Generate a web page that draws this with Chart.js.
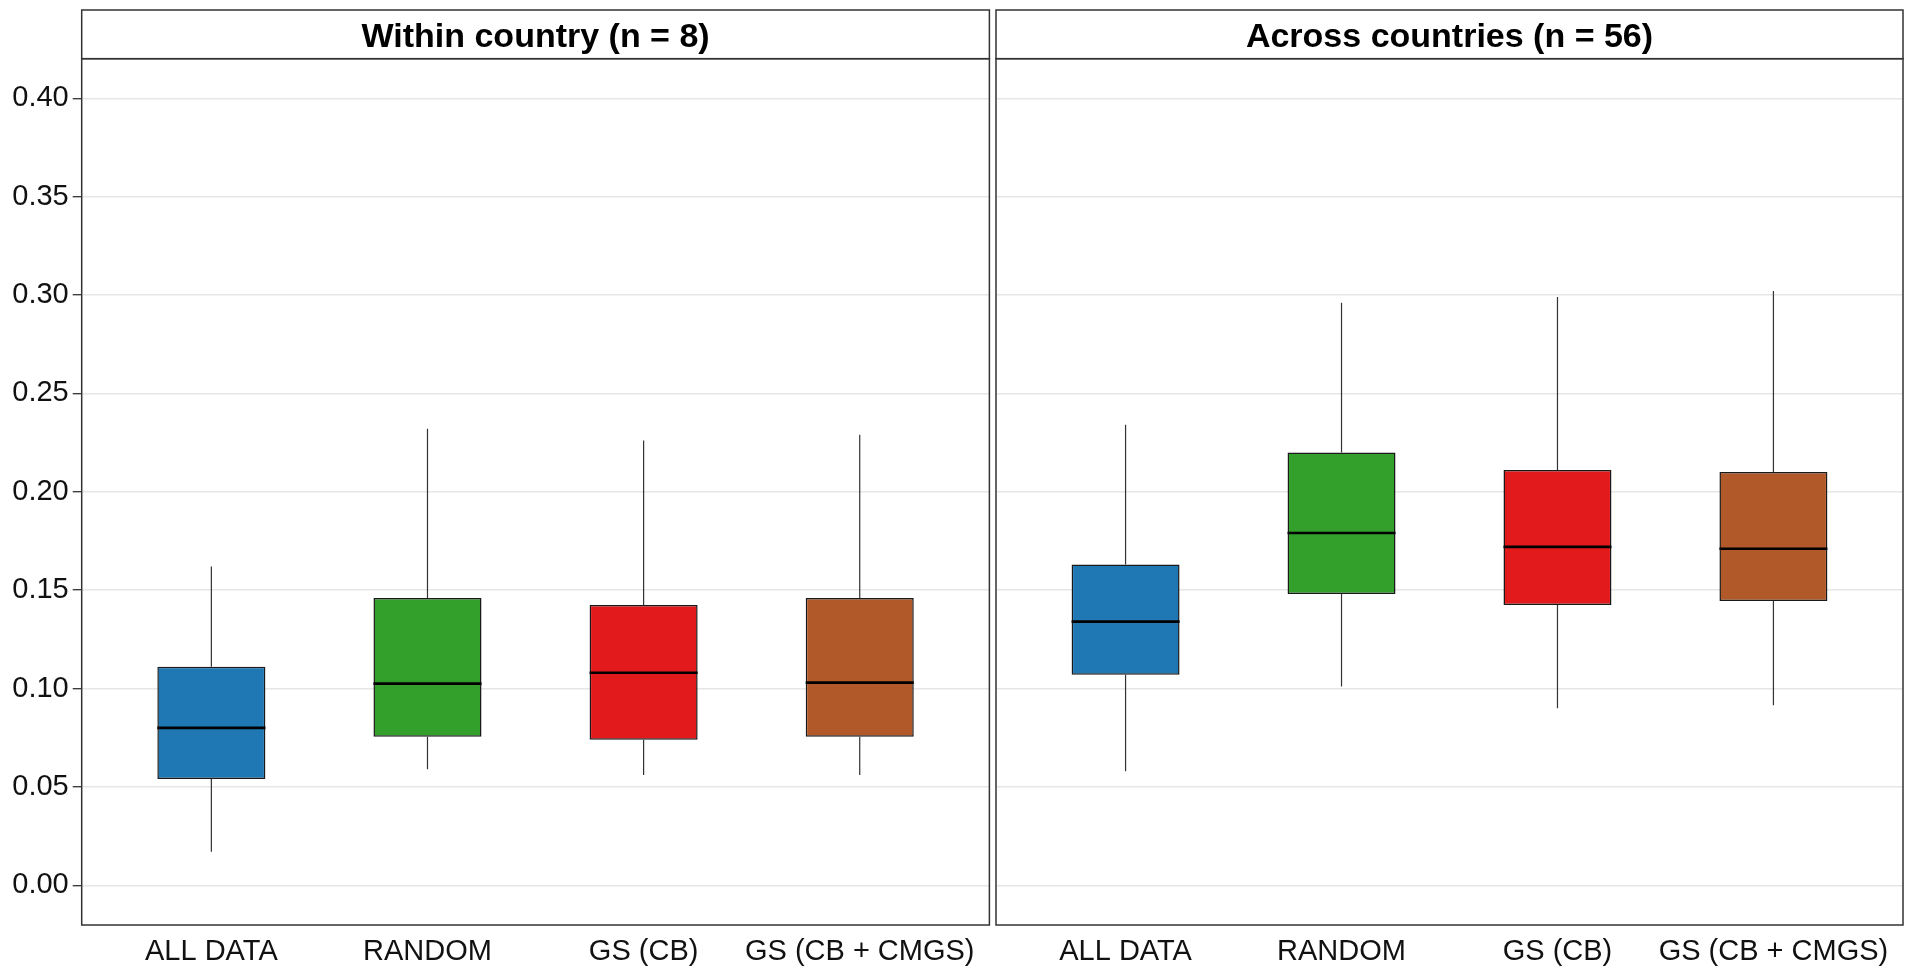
<!DOCTYPE html>
<html>
<head>
<meta charset="utf-8">
<script src="https://cdn.jsdelivr.net/npm/chart.js@4.4.1/dist/chart.umd.min.js"></script>
<style>
  html, body { margin: 0; padding: 0; background: #ffffff; }
  #wrap { position: relative; width: 1905px; height: 968px; overflow: hidden; background: #ffffff; }
  canvas { position: absolute; top: 0; }
  #left { left: 0; }
  #right { left: 992px; }
</style>
</head>
<body>
<div id="wrap">
  <canvas id="left" width="992" height="968"></canvas>
  <canvas id="right" width="913" height="968"></canvas>
</div>
<script>
// Categories and panel titles
const categories = ['ALL DATA', 'RANDOM', 'GS (CB)', 'GS (CB + CMGS)'];
const panelTitles = ['Within country (n = 8)', 'Across countries (n = 56)'];
const boxColors = ['#1F78B4', '#33A02C', '#E31A1C', '#B15928'];
const yTicks = [0.00, 0.05, 0.10, 0.15, 0.20, 0.25, 0.30, 0.35, 0.40];

// Within country: five-number summaries per category
const withinLower  = [0.017, 0.059, 0.056, 0.056];
const withinQ1     = [0.054, 0.0755, 0.074, 0.0755];
const withinMedian = [0.080, 0.1025, 0.108, 0.103];
const withinQ3     = [0.111, 0.146, 0.1425, 0.146];
const withinUpper  = [0.162, 0.232, 0.226, 0.229];

// Across countries: five-number summaries per category
const acrossLower  = [0.058, 0.101, 0.090, 0.0915];
const acrossQ1     = [0.107, 0.148, 0.1425, 0.1445];
const acrossMedian = [0.134, 0.179, 0.172, 0.171];
const acrossQ3     = [0.163, 0.220, 0.211, 0.210];
const acrossUpper  = [0.234, 0.296, 0.299, 0.302];

const FONT = '"Liberation Sans", Arial, Helvetica, sans-serif';

// Draws whiskers, medians, the panel frame and the title strip
const boxPlotPlugin = {
  id: 'boxPlot',
  afterDatasetsDraw(chart, args, opts) {
    const ctx = chart.ctx;
    const y = chart.scales.y;
    const meta = chart.getDatasetMeta(0);
    ctx.save();
    meta.data.forEach((bar, i) => {
      const x = bar.x;
      const half = bar.width / 2;
      // whiskers
      ctx.strokeStyle = '#333333';
      ctx.lineWidth = 1.2;
      ctx.beginPath();
      ctx.moveTo(x, y.getPixelForValue(opts.upper[i]));
      ctx.lineTo(x, y.getPixelForValue(opts.q3[i]));
      ctx.moveTo(x, y.getPixelForValue(opts.q1[i]));
      ctx.lineTo(x, y.getPixelForValue(opts.lower[i]));
      ctx.stroke();
      // median
      ctx.strokeStyle = '#000000';
      ctx.lineWidth = 2.6;
      const my = y.getPixelForValue(opts.median[i]);
      ctx.beginPath();
      ctx.moveTo(x - half, my);
      ctx.lineTo(x + half, my);
      ctx.stroke();
    });
    ctx.restore();
  },
  afterDraw(chart, args, opts) {
    const ctx = chart.ctx;
    const a = chart.chartArea;
    ctx.save();
    // title strip
    const stripTop = 10;
    ctx.fillStyle = '#ffffff';
    ctx.fillRect(a.left, stripTop, a.right - a.left, a.top - stripTop);
    ctx.strokeStyle = '#333333';
    ctx.lineWidth = 1.5;
    ctx.strokeRect(a.left, stripTop, a.right - a.left, a.top - stripTop);
    ctx.fillStyle = '#000000';
    ctx.font = 'bold 34px ' + FONT;
    ctx.textAlign = 'center';
    ctx.textBaseline = 'middle';
    ctx.fillText(opts.title, (a.left + a.right) / 2, (stripTop + a.top) / 2 + 3.5);
    // panel frame
    ctx.strokeRect(a.left, a.top, a.right - a.left, a.bottom - a.top);
    ctx.restore();
  }
};

function makePanel(canvasId, title, lower, q1, median, q3, upper, showY, padding) {
  const points = categories.map((c, i) => ({ x: i, y: [q1[i], q3[i]] }));
  return new Chart(document.getElementById(canvasId), {
    type: 'bar',
    data: {
      datasets: [{
        data: points,
        backgroundColor: boxColors,
        borderColor: '#1a1a1a',
        borderWidth: 1.5,
        borderSkipped: false,
        barPercentage: 0.5,
        categoryPercentage: 1.0
      }]
    },
    options: {
      responsive: false,
      animation: false,
      events: [],
      layout: { padding: padding },
      plugins: {
        legend: { display: false },
        tooltip: { enabled: false },
        boxPlot: { title, lower, q1, median, q3, upper }
      },
      scales: {
        x: {
          type: 'linear',
          offset: false,
          min: -0.6,
          max: 3.6,
          afterBuildTicks: (axis) => { axis.ticks = categories.map((c, i) => ({ value: i })); },
          afterFit: (axis) => { axis.height = 43; },
          grid: { display: false },
          border: { display: false },
          ticks: {
            autoSkip: false,
            maxRotation: 0,
            padding: 2,
            color: '#111111',
            font: { family: FONT, size: 29 },
            callback: (v) => categories[Math.round(v)]
          }
        },
        y: {
          min: -0.0202,
          max: 0.4201,
          afterBuildTicks: (axis) => { axis.ticks = yTicks.map(v => ({ value: v })); },
          afterFit: (axis) => { axis.width = showY ? 81.7 : 0; },
          border: { display: false },
          grid: {
            color: '#E6E6E6',
            lineWidth: 1.4,
            drawTicks: showY,
            tickLength: 9,
            tickColor: '#333333',
            tickWidth: 1.3
          },
          ticks: {
            display: showY,
            padding: 4,
            color: '#111111',
            font: { family: FONT, size: 29 },
            callback: (v) => Number(v).toFixed(2)
          }
        }
      }
    },
    plugins: [boxPlotPlugin]
  });
}

makePanel('left', panelTitles[0], withinLower, withinQ1, withinMedian, withinQ3, withinUpper,
  true, { top: 58.7, right: 2.6, left: 0, bottom: 0 });
makePanel('right', panelTitles[1], acrossLower, acrossQ1, acrossMedian, acrossQ3, acrossUpper,
  false, { top: 58.7, right: 2, left: 4, bottom: 0 });
</script>
</body>
</html>
